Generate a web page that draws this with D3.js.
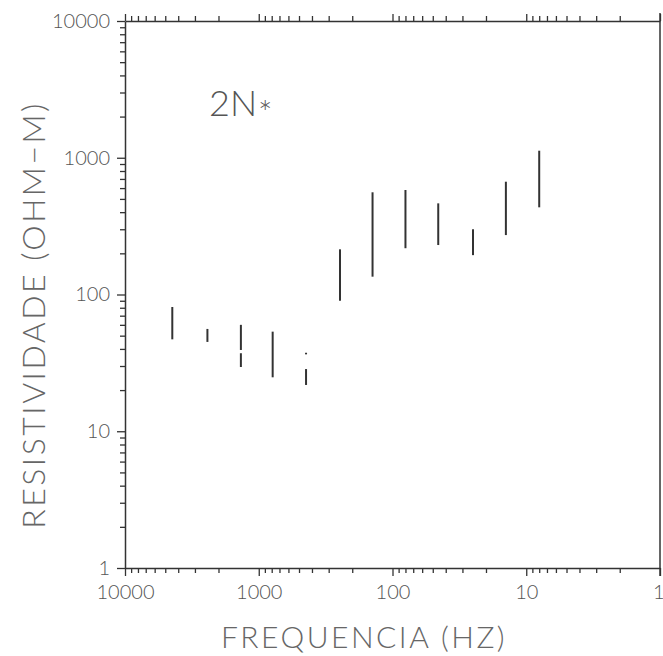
<!DOCTYPE html>
<html>
<head>
<meta charset="utf-8">
<script src="https://cdn.jsdelivr.net/npm/d3@7"></script>
<style>
  body { margin: 0; background: #fff; }
  text { font-family: Lato, "Open Sans", sans-serif; font-weight: 300; }
</style>
</head>
<body>
<div id="chart"></div>
<script>
// frequency (Hz) of each sounding and its resistivity range (ohm-m)
var freqs   = [4430, 2420, 1360, 787, 443, 247, 141, 80, 45.5, 25, 14.2, 8];
var rhoHigh = [81, 56, 60, 53.5, 37.5, 214, 559, 581, 464, 300, 668, 1126];
var rhoLow  = [47, 45, 29.5, 24.8, 21.8, 90, 135, 218, 230, 194, 272, 434];
// small breaks in some of the bars (null = no break)
var gapTop    = [null, null, 39.3, null, 36.5, null, null, null, null, null, null, null];
var gapBottom = [null, null, 37.2, null, 28.5, null, null, null, null, null, null, null];

var decades = [1, 10, 100, 1000, 10000];
var stationLabel = "2N";
var xTitle = "FREQUENCIA  (HZ)";
var yTitle = "RESISTIVIDADE  (OHM\u2212M)";

var width = 663, height = 656;
var margin = {top: 21, right: 3, bottom: 88, left: 125};

var svg = d3.select("#chart")
  .append("svg")
    .attr("width", width)
    .attr("height", height);

var x = d3.scaleLog()
  .domain([10000, 1])
  .range([margin.left, width - margin.right]);

var y = d3.scaleLog()
  .domain([1, 10000])
  .range([height - margin.bottom, margin.top]);

var fmt = function(d) { return decades.indexOf(d) >= 0 ? d : ""; };

function styleAxis(g, minorLen, sign, horiz) {
  g.select(".domain").attr("stroke", "#333").attr("stroke-width", 1.5);
  g.selectAll(".tick line").attr("stroke", "#333").attr("stroke-width", 1.3);
  g.selectAll(".tick")
    .filter(function(d) { return decades.indexOf(d) < 0; })
    .select("line")
      .attr(horiz ? "y2" : "x2", sign * minorLen);
  g.selectAll(".tick text")
    .attr("fill", "#555")
    .style("font-size", "20px");
}

// bottom axis
var xAxis = svg.append("g")
  .attr("transform", "translate(0," + y(1) + ")")
  .call(d3.axisBottom(x).tickValues(x.ticks()).tickFormat(fmt)
    .tickSizeInner(8).tickSizeOuter(0).tickPadding(9))
  .call(styleAxis, 5, 1, true);
// last label sits on the page edge
xAxis.selectAll(".tick text")
  .filter(function(d) { return d === 1; })
  .attr("text-anchor", "end")
  .attr("dx", 4);

// top axis
svg.append("g")
  .attr("transform", "translate(0," + y(10000) + ")")
  .call(d3.axisTop(x).tickValues(x.ticks()).tickFormat("")
    .tickSizeInner(7).tickSizeOuter(0))
  .call(styleAxis, 5, -1, true);

// left axis
svg.append("g")
  .attr("transform", "translate(" + x(10000) + ",0)")
  .call(d3.axisLeft(y).tickValues(y.ticks()).tickFormat(fmt)
    .tickSizeInner(8).tickSizeOuter(0).tickPadding(7))
  .call(styleAxis, 5, -1, false);

// right frame
svg.append("line")
  .attr("x1", x(1)).attr("x2", x(1))
  .attr("y1", y(1) + 8).attr("y2", y(10000) - 8)
  .attr("stroke", "#333").attr("stroke-width", 1.5);

// resistivity bars
var bars = svg.append("g").attr("stroke", "#333").attr("stroke-width", 2);
freqs.forEach(function(f, i) {
  var segs = gapTop[i] == null
    ? [[rhoHigh[i], rhoLow[i]]]
    : [[rhoHigh[i], gapTop[i]], [gapBottom[i], rhoLow[i]]];
  segs.forEach(function(s) {
    bars.append("line")
      .attr("x1", x(f)).attr("x2", x(f))
      .attr("y1", y(s[0])).attr("y2", y(s[1]));
  });
});

// station label
var lab = svg.append("text")
  .attr("x", 209).attr("y", 116)
  .attr("fill", "#555")
  .style("font-size", "36px")
  .text(stationLabel);
lab.append("tspan")
  .attr("dx", 1).attr("dy", 9)
  .style("font-size", "34px")
  .text("*");

// axis titles
svg.append("text")
  .attr("x", 364).attr("y", 648)
  .attr("text-anchor", "middle")
  .attr("fill", "#666")
  .style("font-size", "30px")
  .style("letter-spacing", "2.5px")
  .text(xTitle);

svg.append("text")
  .attr("transform", "translate(45,315) rotate(-90)")
  .attr("text-anchor", "middle")
  .attr("fill", "#666")
  .style("font-size", "32px")
  .style("letter-spacing", "2.5px")
  .text(yTitle);
</script>
</body>
</html>
